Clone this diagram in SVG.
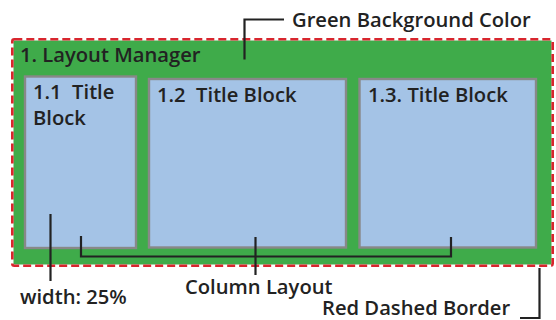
<svg xmlns="http://www.w3.org/2000/svg" width="556" height="320" viewBox="0 0 556 320">
<style>
.t{font-family:"Open Sans","Noto Sans","DejaVu Sans",sans-serif;fill:#222;font-size:20.2px;font-weight:600;white-space:pre;}
.box{fill:#a4c3e6;stroke:#888;stroke-width:2.4;}
.ld{fill:none;stroke:#222;stroke-width:2.2;}
</style>
<rect width="556" height="320" fill="#fff"/>
<g id="layout-manager">
<rect x="13.5" y="40.5" width="538" height="224" fill="#3fab4a"/>
<rect x="12.3" y="39.3" width="540.4" height="226.4" rx="2" fill="none" stroke="#d8262e" stroke-width="2.6" stroke-dasharray="8 4"/>
<text class="t" x="20" y="62">1. Layout Manager</text>
</g>
<g id="block-1">
<rect class="box" x="25" y="76.5" width="111" height="171.5"/>
<text class="t" x="33" y="99" xml:space="preserve">1.1  Title</text>
<text class="t" x="33" y="125">Block</text>
</g>
<g id="block-2">
<rect class="box" x="149" y="79" width="197" height="168.5"/>
<text class="t" x="157" y="102" xml:space="preserve">1.2  Title Block</text>
</g>
<g id="block-3">
<rect class="box" x="359.5" y="79" width="176.5" height="168.5"/>
<text class="t" x="368" y="102">1.3. Title Block</text>
</g>
<g id="connectors">
<polyline class="ld" points="244.5,59.5 244.5,19.5 284,19.5"/>
<polyline class="ld" points="81,236 81,256.5 451,256.5 451,237"/>
<line class="ld" x1="255.5" y1="237" x2="255.5" y2="275"/>
<line class="ld" x1="50.5" y1="214" x2="50.5" y2="281"/>
<polyline class="ld" points="539.5,268 539.5,318 520,318"/>
</g>
<g id="labels">
<text class="t" x="292" y="27">Green Background Color</text>
<text class="t" x="185" y="293.5">Column Layout</text>
<text class="t" x="20" y="303.5">width: 25%</text>
<text class="t" x="322" y="315">Red Dashed Border</text>
</g>
</svg>
